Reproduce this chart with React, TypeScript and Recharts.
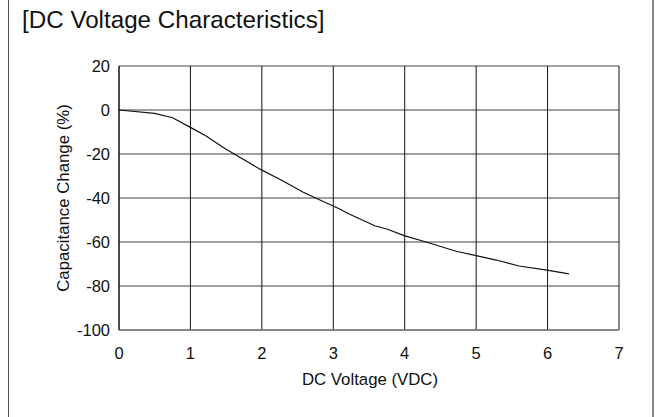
import React from "react";
import { CartesianGrid, Line, LineChart, XAxis, YAxis } from "recharts";

// curve
const voltage = [
  0, 0.5, 0.75, 1.0, 1.22, 1.46, 1.69, 1.98, 2.25, 2.58, 2.76, 3.09, 3.23,
  3.58, 3.76, 3.99, 4.3, 4.72, 5.0, 5.28, 5.6, 5.97, 6.3,
];
const capChange = [
  0, -1.5, -3.5, -7.9, -11.8, -17, -21.5, -27, -31.5, -37.4, -40.1, -45,
  -47.4, -52.6, -54.2, -57.1, -60, -64.2, -66.2, -68.2, -70.9, -72.7, -74.5,
];

const xTicks = [0, 1, 2, 3, 4, 5, 6, 7];
const yTicks = [-100, -80, -60, -40, -20, 0, 20];

const data = voltage.map((v, i) => ({ v, c: capChange[i] }));

const FONT = "'Liberation Sans', Arial, Helvetica, sans-serif";
const GRAY = "#808080";
const INK = "#111111";

const tickStyle = { fontSize: 16.5, fill: INK, fontFamily: FONT };

export default function App() {
  return (
    <div
      style={{
        position: "absolute",
        left: 0,
        top: 0,
        width: 657,
        height: 417,
        background: "#fff",
        fontFamily: FONT,
      }}
    >
      {/* frame sides */}
      <div
        style={{
          position: "absolute",
          left: 8,
          top: 0,
          width: 643,
          height: 417,
          borderLeft: "1.5px solid #555",
          borderRight: "2px solid #888",
        }}
      />
      <div
        style={{
          position: "absolute",
          left: 22,
          top: 6,
          fontSize: 24.2,
          lineHeight: "28px",
          color: INK,
        }}
      >
        [DC Voltage Characteristics]
      </div>
      <div style={{ position: "absolute", left: 0, top: 0 }}>
        <LineChart
          width={657}
          height={417}
          data={data}
          margin={{ top: 66, right: 38, bottom: 0, left: 0 }}
        >
          <CartesianGrid
            vertical={false}
            stroke={GRAY}
            strokeWidth={1.4}
          />
          <CartesianGrid horizontal={false} stroke={INK} strokeWidth={1} />
          <XAxis
            dataKey="v"
            type="number"
            domain={[0, 7]}
            ticks={xTicks}
            height={87}
            tickLine={false}
            axisLine={{ stroke: GRAY, strokeWidth: 1.4 }}
            tick={tickStyle}
            tickMargin={11}
            label={{
              content: () => (
                <text
                  x={370}
                  y={385}
                  textAnchor="middle"
                  fontSize={16.8}
                  fill={INK}
                  fontFamily={FONT}
                >
                  DC Voltage (VDC)
                </text>
              ),
            }}
          />
          <YAxis
            type="number"
            domain={[-100, 20]}
            ticks={yTicks}
            width={119}
            tickLine={false}
            axisLine={{ stroke: INK, strokeWidth: 1 }}
            tick={tickStyle}
            tickMargin={3}
            allowDataOverflow
            label={{
              content: () => (
                <text
                  x={63}
                  y={198}
                  transform="rotate(-90 63 198)"
                  textAnchor="middle"
                  dominantBaseline="central"
                  fontSize={16.8}
                  fill={INK}
                  fontFamily={FONT}
                >
                  Capacitance Change (%)
                </text>
              ),
            }}
          />
          <Line
            type="linear"
            dataKey="c"
            stroke={INK}
            strokeWidth={1.2}
            dot={false}
            isAnimationActive={false}
          />
        </LineChart>
      </div>
    </div>
  );
}
